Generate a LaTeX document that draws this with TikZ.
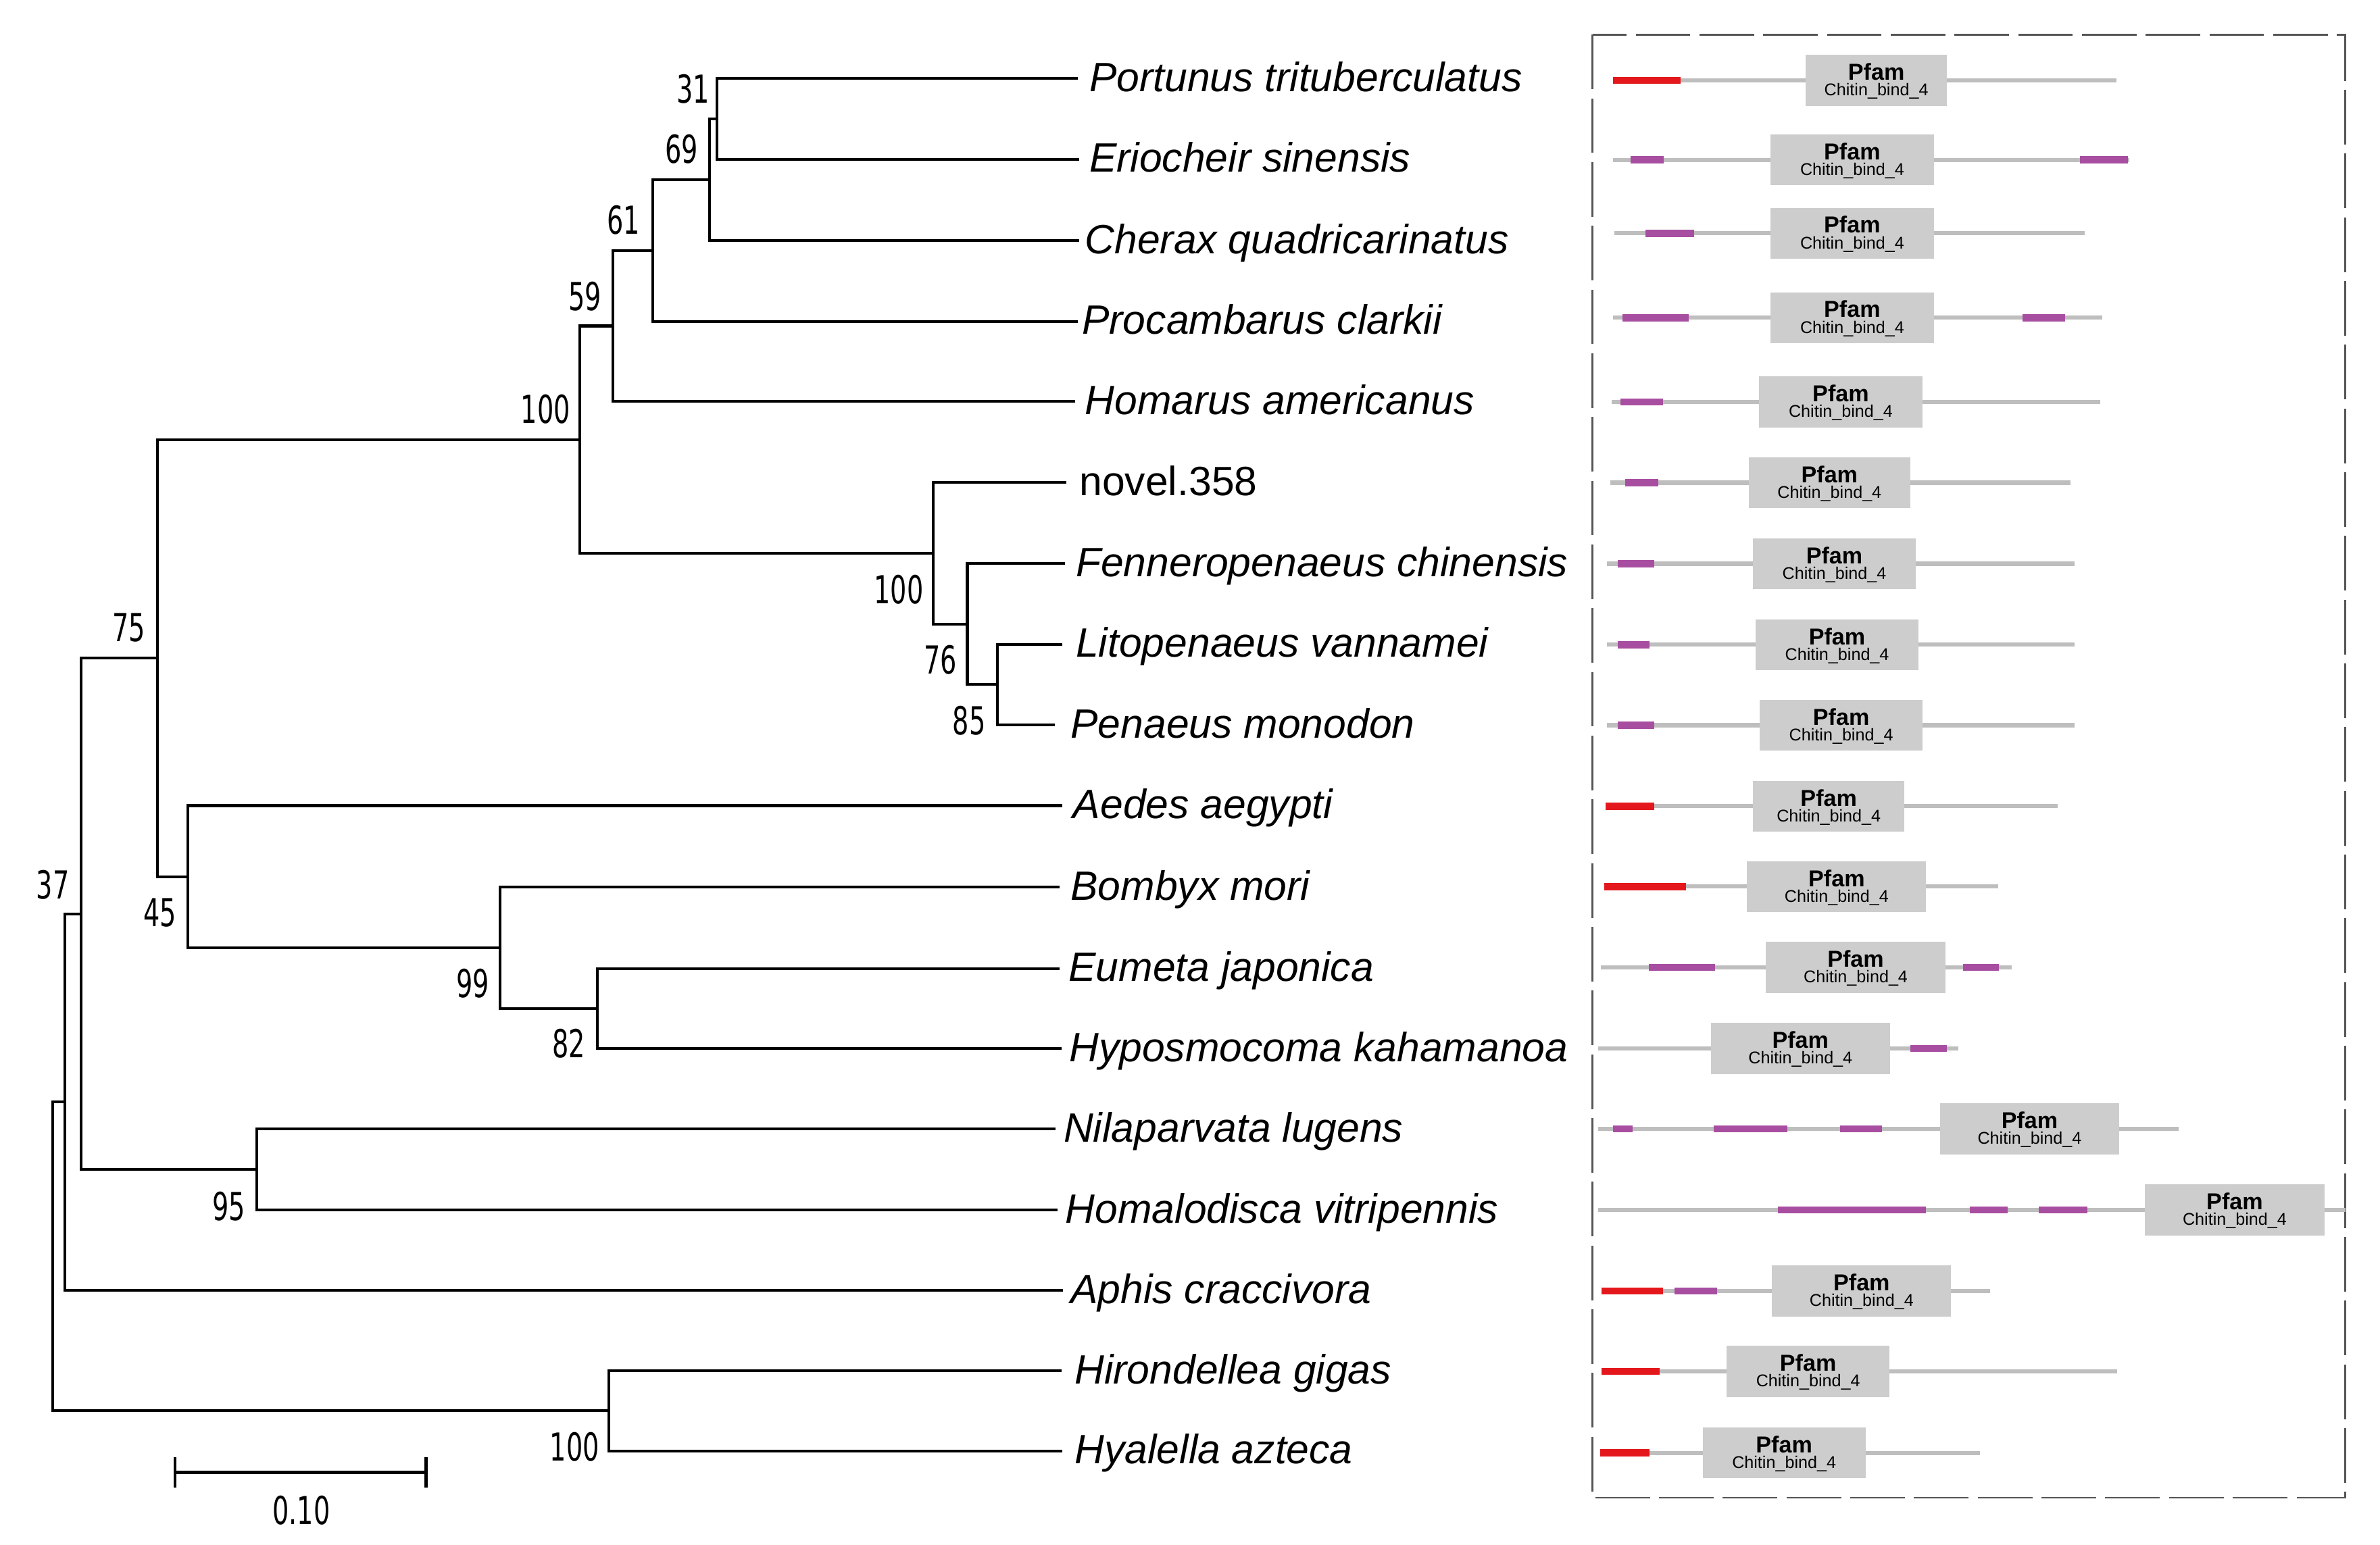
\documentclass[tikz,border=0pt]{standalone}
\usepackage{fontspec}
\setmainfont{Liberation Sans}
\newfontfamily\bootfont[FakeStretch=0.67]{DejaVu Sans}
\usepackage{xcolor}
\definecolor{linegray}{RGB}{190,190,190}
\definecolor{boxgray}{RGB}{205,205,205}
\definecolor{sigred}{RGB}{228,24,28}
\definecolor{lcpurple}{RGB}{168,78,160}
\definecolor{framegray}{RGB}{85,85,85}

\begin{document}
\begin{tikzpicture}[x=0.5pt,y=0.5pt,yscale=-1,xscale=1,
  branch/.style={line width=0.9pt},
  taxon/.style={anchor=base west,inner sep=0pt,font=\fontsize{13.5}{16}\selectfont\itshape},
  boot/.style={inner sep=0pt,font=\bootfont\fontsize{12.7}{14}\selectfont},
  frame/.style={draw=framegray,line width=0.65pt,dash pattern={on 18pt off 3pt}},
  backbone/.style={draw=linegray,line width=1.35pt},
  sigpep/.style={draw=sigred,line width=2.35pt},
  lowcx/.style={draw=lcpurple,line width=2.35pt},
  pfamtitle/.style={inner sep=0pt,yshift=2.8pt,font=\bfseries\fontsize{7.6}{8}\selectfont},
  pfamname/.style={inner sep=0pt,yshift=-3.6pt,font=\fontsize{5.6}{6}\selectfont},
  pfam/.style={fill=boxgray,inner sep=0pt,minimum height=16.8pt,
    label={[pfamtitle]center:Pfam},label={[pfamname]center:Chitin\_bind\_4}}]
\useasboundingbox (0,0) rectangle (1568,1018);

%Internal nodes of the tree
\coordinate (n31) at (472.5,78.35);
\coordinate (n69) at (467.5,118.4);
\coordinate (n61) at (430,165.05);
\coordinate (n59) at (404,214.8);
\coordinate (nC100) at (382,289.7);
\coordinate (nP100) at (614.8,364.6);
\coordinate (n76) at (637.3,411.2);
\coordinate (n85) at (657,451.1);
\coordinate (n75) at (103.7,433.7);
\coordinate (n45) at (123.6,577.7);
\coordinate (n99) at (329.6,624.5);
\coordinate (n82) at (393.5,664.55);
\coordinate (n37) at (53.4,602.2);
\coordinate (n95) at (169.1,770.65);
\coordinate (nAph) at (42.6,726.25);
\coordinate (nA100) at (401.2,929.75);
\coordinate (nRoot) at (34.9,828);

%Leaf tips
\coordinate (tPort) at (710.1,51.8);
\coordinate (tErio) at (710.8,104.9);
\coordinate (tCher) at (710.8,158.5);
\coordinate (tProc) at (710.1,211.7);
\coordinate (tHoma) at (708.4,264.6);
\coordinate (tNove) at (702.4,318);
\coordinate (tFenn) at (701.6,371.3);
\coordinate (tLito) at (700,424.5);
\coordinate (tPena) at (694.9,477.7);
\coordinate (tAede) at (700,530.9);
\coordinate (tBomb) at (698,584.5);
\coordinate (tEume) at (698,638.2);
\coordinate (tHypo) at (699.2,690.9);
\coordinate (tNila) at (695.6,744);
\coordinate (tHoml) at (696.8,797.3);
\coordinate (tAphi) at (700.4,850.3);
\coordinate (tHiro) at (699.2,903.4);
\coordinate (tHyal) at (700,956.1);

%Branches
\draw [branch] (tPort) -| (n31) |- (tErio);
\draw [branch] (n31) -| (n69) |- (tCher);
\draw [branch] (n69) -| (n61) |- (tProc);
\draw [branch] (n61) -| (n59) |- (tHoma);
\draw [branch] (n59) -| (nC100) |- (nP100);
\draw [branch] (tNove) -| (nP100) |- (n76);
\draw [branch] (tFenn) -| (n76) |- (n85);
\draw [branch] (tLito) -| (n85) |- (tPena);
\draw [branch] (nC100) -| (n75) |- (n45);
\draw [branch] (tAede) -| (n45) |- (n99);
\draw [branch] (tBomb) -| (n99) |- (n82);
\draw [branch] (tEume) -| (n82) |- (tHypo);
\draw [branch] (n75) -| (n37) |- (n95);
\draw [branch] (tNila) -| (n95) |- (tHoml);
\draw [branch] (n37) -| (nAph) |- (tAphi);
\draw [branch] (nAph) -| (nRoot) |- (nA100);
\draw [branch] (tHiro) -| (nA100) |- (tHyal);

% Text Node
\node [taxon] (lPort) at (717.3,60.3) {Portunus trituberculatus};
\node [taxon] (lErio) at (717.3,113.4) {Eriocheir sinensis};
\node [taxon] (lCher) at (714.4,167) {Cherax quadricarinatus};
\node [taxon] (lProc) at (712.5,220.2) {Procambarus clarkii};
\node [taxon] (lHoma) at (714.4,273.1) {Homarus americanus};
\node [taxon,font=\fontsize{13.5}{16}\selectfont] (lNove) at (710.8,326.4) {novel.358};
\node [taxon] (lFenn) at (708.4,379.8) {Fenneropenaeus chinensis};
\node [taxon] (lLito) at (708.4,433) {Litopenaeus vannamei};
\node [taxon] (lPena) at (705,486.2) {Penaeus monodon};
\node [taxon] (lAede) at (706.5,539.4) {Aedes aegypti};
\node [taxon] (lBomb) at (705,593) {Bombyx mori};
\node [taxon] (lEume) at (703.6,646.7) {Eumeta japonica};
\node [taxon] (lHypo) at (704,699.4) {Hyposmocoma kahamanoa};
\node [taxon] (lNila) at (700.4,752.5) {Nilaparvata lugens};
\node [taxon] (lHoml) at (701.6,805.8) {Homalodisca vitripennis};
\node [taxon] (lAphi) at (705,858.8) {Aphis craccivora};
\node [taxon] (lHiro) at (707.7,911.9) {Hirondellea gigas};
\node [taxon] (lHyal) at (707.7,964.6) {Hyalella azteca};

% Bootstrap values
\node [boot] (b31) at (456.5,58.5) {31};
\node [boot] (b69) at (449.2,98.4) {69};
\node [boot] (b61) at (410.8,144.8) {61};
\node [boot] (b59) at (385.3,195.4) {59};
\node [boot] (bC100) at (359.4,269.8) {100};
\node [boot] (bP100) at (592.1,388.5) {100};
\node [boot] (b76) at (619.5,434.8) {76};
\node [boot] (b85) at (638.5,474.7) {85};
\node [boot] (b75) at (85,413.5) {75};
\node [boot] (b45) at (105.5,601.4) {45};
\node [boot] (b99) at (311.4,648) {99};
\node [boot] (b82) at (374.7,687.7) {82};
\node [boot] (b95) at (150.9,794.8) {95};
\node [boot] (b37) at (34.8,583) {37};
\node [boot] (bA100) at (378.6,953.6) {100};

%Scale bar
\coordinate (sbL) at (115.1,970.3);
\coordinate (sbR) at (280.7,970.3);
\draw [branch] (sbL) -- (sbR);
\draw [branch] (sbL) ++(0,-9.85) -- ++(0,19.7);
\draw [branch] (sbR) ++(0,-9.85) -- ++(0,19.7);
\node [boot] (sbLbl) at (198.5,995.3) {0.10};

%Domain panel
\draw [frame] (1049.2,22.8) rectangle (1545.2,987);

\draw [backbone] (1062.7,53) -- (1394.2,53);
\draw [sigpep] (1062.7,53) -- (1107.3,53);
\node [pfam,minimum width=46.65pt] (d1) at (1236.15,53) {};

\draw [backbone] (1062.7,105.4) -- (1402.6,105.4);
\draw [lowcx] (1074.4,105.4) -- (1096.2,105.4) (1370.1,105.4) -- (1402,105.4);
\node [pfam,minimum width=53.85pt] (d2) at (1220.25,105.4) {};

\draw [backbone] (1063.7,153.7) -- (1373.4,153.7);
\draw [lowcx] (1084.1,153.7) -- (1116,153.7);
\node [pfam,minimum width=53.85pt] (d3) at (1220.25,153.7) {};

\draw [backbone] (1062.7,209.4) -- (1384.8,209.4);
\draw [lowcx] (1068.7,209.4) -- (1112.7,209.4) (1332.5,209.4) -- (1360.3,209.4);
\node [pfam,minimum width=53.85pt] (d4) at (1220.25,209.4) {};

\draw [backbone] (1062,264.8) -- (1383.5,264.8);
\draw [lowcx] (1067.4,264.8) -- (1095.5,264.8);
\node [pfam,minimum width=53.7pt] (d5) at (1212.7,264.8) {};

\draw [backbone] (1061,318.1) -- (1364,318.1);
\draw [lowcx] (1070.7,318.1) -- (1092.5,318.1);
\node [pfam,minimum width=53.3pt] (d6) at (1205.3,318.1) {};

\draw [backbone] (1058.6,371.5) -- (1366.7,371.5);
\draw [lowcx] (1066,371.5) -- (1089.8,371.5);
\node [pfam,minimum width=53.5pt] (d7) at (1208.5,371.5) {};

\draw [backbone] (1058.6,424.9) -- (1366.7,424.9);
\draw [lowcx] (1066,424.9) -- (1086.5,424.9);
\node [pfam,minimum width=53.7pt] (d8) at (1210.3,424.9) {};

\draw [backbone] (1058.6,477.9) -- (1366.7,477.9);
\draw [lowcx] (1066,477.9) -- (1089.8,477.9);
\node [pfam,minimum width=53.7pt] (d9) at (1213,477.9) {};

\draw [backbone] (1057.6,531.3) -- (1355.6,531.3);
\draw [sigpep] (1057.6,531.3) -- (1089.8,531.3);
\node [pfam,minimum width=49.8pt] (d10) at (1204.8,531.3) {};

\draw [backbone] (1057,584.3) -- (1316.4,584.3);
\draw [sigpep] (1057,584.3) -- (1110.6,584.3);
\node [pfam,minimum width=59pt] (d11) at (1210,584.3) {};

\draw [backbone] (1054.6,637.6) -- (1325.4,637.6);
\draw [lowcx] (1086.2,637.6) -- (1130.1,637.6) (1293.5,637.6) -- (1317,637.6);
\node [pfam,minimum width=59.25pt] (d12) at (1222.55,637.6) {};

\draw [backbone] (1053,691) -- (1290.2,691);
\draw [lowcx] (1258.6,691) -- (1282.8,691);
\node [pfam,minimum width=59.05pt] (d13) at (1186.15,691) {};

\draw [backbone] (1053,744) -- (1435.2,744);
\draw [lowcx] (1062.7,744) -- (1075.4,744) (1129.1,744) -- (1177.4,744) (1212.3,744) -- (1239.9,744);
\node [pfam,minimum width=59.05pt] (d14) at (1337.15,744) {};

\draw [backbone] (1053,797.4) -- (1545.3,797.4);
\draw [lowcx] (1171.4,797.4) -- (1268.7,797.4) (1297.6,797.4) -- (1322.7,797.4) (1343.2,797.4) -- (1375.1,797.4);
\node [pfam,minimum width=59.25pt] (d15) at (1472.25,797.4) {};

\draw [backbone] (1055.3,850.7) -- (1311.3,850.7);
\draw [sigpep] (1055.3,850.7) -- (1095.5,850.7);
\draw [lowcx] (1103.3,850.7) -- (1131.1,850.7);
\node [pfam,minimum width=59.05pt] (d16) at (1226.45,850.7) {};

\draw [backbone] (1055.3,903.8) -- (1394.9,903.8);
\draw [sigpep] (1055.3,903.8) -- (1093.5,903.8);
\node [pfam,minimum width=53.7pt] (d17) at (1191.2,903.8) {};

\draw [backbone] (1054.3,957.5) -- (1304.6,957.5);
\draw [sigpep] (1054.3,957.5) -- (1086.5,957.5);
\node [pfam,minimum width=53.7pt] (d18) at (1175.4,957.5) {};
\end{tikzpicture}
\end{document}
